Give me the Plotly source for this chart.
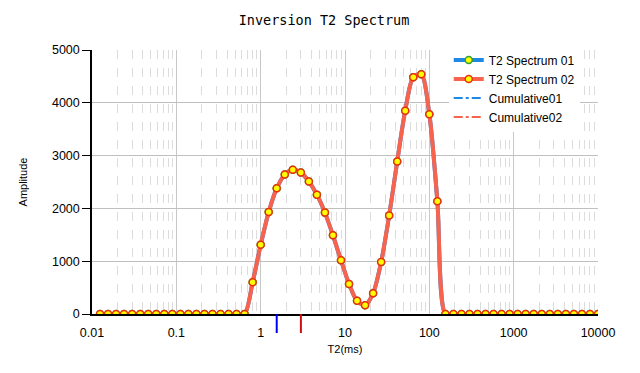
import plotly.graph_objects as go

# T2 relaxation times (ms), log-spaced bins
t2_ms = [0.01245, 0.0155, 0.0193, 0.0240, 0.0299, 0.0373, 0.0464, 0.0578, 0.0720,
         0.0896, 0.1116, 0.1389, 0.1730, 0.2154, 0.2683, 0.3340, 0.4160, 0.5179,
         0.6449, 0.8031, 1.0000, 1.245, 1.550, 1.931, 2.404, 2.993, 3.728, 4.642,
         5.780, 7.197, 8.962, 11.16, 13.89, 17.30, 21.54, 26.83, 33.40, 41.60,
         51.79, 64.49, 80.31, 100.0, 124.5, 155.0, 193.1, 240.4, 299.3, 372.8,
         464.2, 578.0, 719.7, 896.2, 1116, 1389, 1730, 2154, 2683, 3340, 4160,
         5179, 6449, 8031, 10000]

amp_01 = [0]*19 + [600, 1310, 1930, 2380, 2640, 2730, 2680, 2510, 2260, 1920, 1490,
                   1020, 570, 250, 165, 395, 985, 1865, 2890, 3850, 4485, 4540, 3785,
                   2135, 0] + [0]*19
amp_02 = [0]*19 + [600, 1310, 1930, 2380, 2640, 2730, 2680, 2510, 2260, 1920, 1490,
                   1020, 570, 250, 165, 395, 985, 1865, 2890, 3850, 4485, 4540, 3785,
                   2135, 0] + [0]*19

cum_x = [None]
cum_01 = [None]
cum_02 = [None]

marker_t2 = [1.55, 3.0]          # T2 indicator marks (blue = 01, red = 02)
marker_colors = ["#0000FF", "#D01010"]

tick_vals = [0.01, 0.1, 1, 10, 100, 1000, 10000]
tick_text = ["0.01", "0.1", "1", "10", "100", "1000", "10000"]

blue = "#1E88E5"
red = "#F8634E"

fig = go.Figure()
fig.add_trace(go.Scatter(
    x=t2_ms, y=amp_01, name="T2 Spectrum 01", mode="lines+markers",
    line=dict(color=blue, width=4, shape="spline", smoothing=0.8),
    marker=dict(size=7, color="#FFFF00", line=dict(color="#2EA02E", width=1.5)),
))
fig.add_trace(go.Scatter(
    x=t2_ms, y=amp_02, name="T2 Spectrum 02", mode="lines+markers",
    line=dict(color=red, width=4, shape="spline", smoothing=0.8),
    marker=dict(size=7, color="#FFFF00", line=dict(color="#E8300A", width=1.5)),
))
fig.add_trace(go.Scatter(
    x=cum_x, y=cum_01, name="Cumulative01", mode="lines",
    line=dict(color=blue, width=2, dash="dashdot"),
))
fig.add_trace(go.Scatter(
    x=cum_x, y=cum_02, name="Cumulative02", mode="lines",
    line=dict(color=red, width=2, dash="dashdot"),
))

for t, c in zip(marker_t2, marker_colors):
    fig.add_shape(type="line", xref="x", yref="paper",
                  x0=t, x1=t, y0=0, y1=-0.072,
                  line=dict(color=c, width=2))

fig.update_layout(
    width=632, height=365,
    margin=dict(l=84, r=42, t=42, b=59),
    paper_bgcolor="white", plot_bgcolor="white",
    title=dict(text="Inversion T2 Spectrum", x=0.5, xanchor="center", y=0.967,
               yanchor="middle",
               font=dict(family="DejaVu Sans Mono", size=13.5, color="#000000")),
    font=dict(family="Liberation Sans, Arial", size=12, color="#000000"),
    showlegend=True,
    legend=dict(x=0.705, y=1.017, xanchor="left", yanchor="top",
                bgcolor="white", borderwidth=0,
                font=dict(family="Liberation Sans, Arial", size=12, color="#000000"),
                tracegroupgap=0),
)
fig.update_xaxes(
    type="log", range=[-2, 4],
    tickvals=tick_vals, ticktext=tick_text, ticks="", ticklabelstandoff=6,
    showline=True, linecolor="black", linewidth=1.5,
    showgrid=True, gridcolor="#C8C8C8", gridwidth=1,
    minor=dict(showgrid=True, dtick="D1", gridcolor="#DCDCDC", griddash="dash", gridwidth=1),
    zeroline=False,
    title=dict(text="T2(ms)", font=dict(size=11), standoff=7),
    tickfont=dict(size=12.5),
)
fig.update_yaxes(
    range=[0, 5000], dtick=1000, ticks="outside", ticklen=8, tickcolor="black",
    showline=True, linecolor="black", linewidth=1.5,
    showgrid=True, gridcolor="#C0C0C0", gridwidth=1, zeroline=False,
    title=dict(text="Amplitude", font=dict(size=11), standoff=22),
    tickfont=dict(size=12.5),
)

fig.write_html("out.html")
